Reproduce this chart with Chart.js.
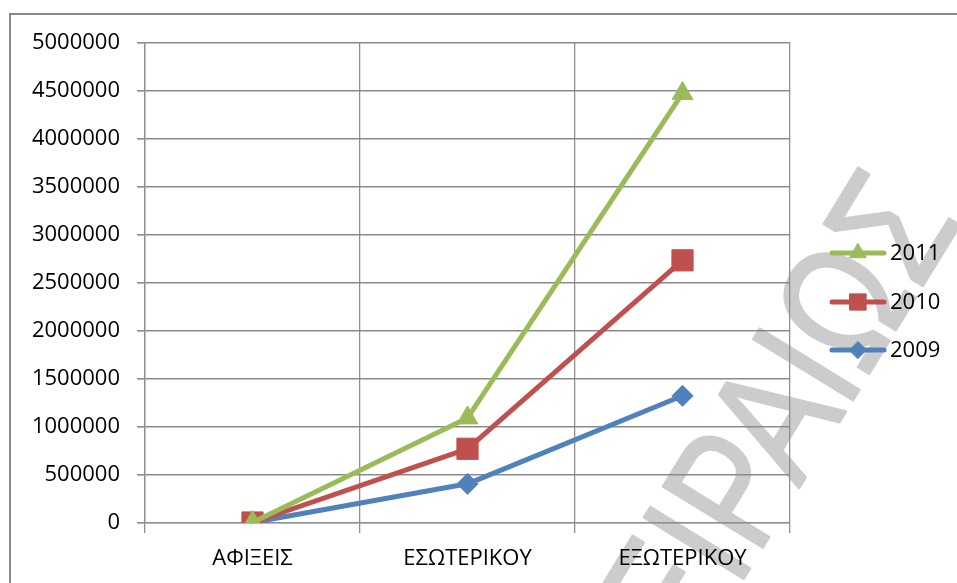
<!DOCTYPE html>
<html>
<head>
<meta charset="utf-8">
<script src="https://cdn.jsdelivr.net/npm/chart.js@4/dist/chart.umd.min.js"></script>
<style>
  html, body { margin: 0; padding: 0; background: #ffffff; }
  #wrap { width: 957px; height: 583px; position: relative; }
</style>
</head>
<body>
<div id="wrap"><canvas id="chart" width="957" height="583"></canvas></div>
<script>
// Categories and yearly series
const categories = ['ΑΦΙΞΕΙΣ', 'ΕΣΩΤΕΡΙΚΟΥ', 'ΕΞΩΤΕΡΙΚΟΥ'];
const years = ['2011', '2010', '2009'];
const values2011 = [5000, 1095000, 4475000];
const values2010 = [5000, 773000, 2736000];
const values2009 = [5000, 408000, 1325000];
const yMin = 0;
const yMax = 5000000;
const yStep = 500000;

const FONT = "'Open Sans', Lato, 'Noto Sans', sans-serif";

const seriesStyle = {
  '2011': { color: '#9BBB59', point: 'triangle', radius: 12, legendRadius: 9.5 },
  '2010': { color: '#C0504D', point: 'rect', radius: 15, legendRadius: 11.5 },
  '2009': { color: '#4F81BD', point: 'rectRot', radius: 10.5, legendRadius: 8.5 }
};

function makeDataset(label, values) {
  const s = seriesStyle[label];
  return {
    label: label,
    data: values,
    borderColor: s.color,
    backgroundColor: s.color,
    borderWidth: 5,
    borderCapStyle: 'round',
    borderJoinStyle: 'round',
    pointStyle: s.point,
    pointRadius: s.radius,
    pointHoverRadius: s.radius,
    pointBorderWidth: 1,
    pointBackgroundColor: s.color,
    pointBorderColor: s.color,
    tension: 0,
    fill: false
  };
}

// Light diagonal watermark and outer frame behind the plot
const backdrop = {
  id: 'backdrop',
  beforeDraw(chart) {
    const ctx = chart.ctx;
    ctx.save();
    ctx.fillStyle = '#ffffff';
    ctx.fillRect(0, 0, chart.width, chart.height);
    ctx.translate(923, 196);
    ctx.rotate(-58.5 * Math.PI / 180);
    ctx.scale(1, 1.25);
    ctx.font = "136px 'Liberation Sans', 'DejaVu Sans', sans-serif";
    ctx.fillStyle = '#cccccc';
    ctx.strokeStyle = '#cccccc';
    ctx.lineWidth = 2;
    ctx.lineJoin = 'round';
    ctx.textAlign = 'right';
    ctx.textBaseline = 'middle';
    ctx.fillText('ΠΕΙΡΑΙΩΣ', 0, 0);
    ctx.strokeText('ΠΕΙΡΑΙΩΣ', 0, 0);
    ctx.restore();
  },
  afterDraw(chart) {
    const ctx = chart.ctx;
    ctx.save();
    ctx.strokeStyle = '#888888';
    ctx.lineWidth = 2;
    ctx.strokeRect(10, 14, 1200, 1200);
    ctx.restore();
  }
};

// Legend on the right: line sample with marker, then the year
const sideLegend = {
  id: 'sideLegend',
  afterDraw(chart) {
    const ctx = chart.ctx;
    const rows = [253, 302, 350];
    chart.data.datasets.forEach((ds, i) => {
      const s = seriesStyle[ds.label];
      const y = rows[i];
      ctx.save();
      ctx.strokeStyle = s.color;
      ctx.lineWidth = 5;
      ctx.lineCap = 'round';
      ctx.beginPath();
      ctx.moveTo(832, y);
      ctx.lineTo(884, y);
      ctx.stroke();
      ctx.fillStyle = s.color;
      ctx.strokeStyle = s.color;
      ctx.lineWidth = 1;
      Chart.helpers.drawPoint(ctx, { pointStyle: s.point, radius: s.legendRadius, rotation: 0, borderWidth: 1 }, 858, y);
      ctx.fillStyle = '#000000';
      ctx.font = '22px ' + FONT;
      ctx.textAlign = 'left';
      ctx.textBaseline = 'middle';
      ctx.fillText(ds.label, 890, y + 1);
      ctx.restore();
    });
  }
};

new Chart(document.getElementById('chart'), {
  type: 'line',
  data: {
    labels: categories,
    datasets: [
      makeDataset('2011', values2011),
      makeDataset('2010', values2010),
      makeDataset('2009', values2009)
    ]
  },
  options: {
    responsive: false,
    devicePixelRatio: 1,
    animation: false,
    layout: { padding: { left: 0, right: 167, top: 43, bottom: 0 } },
    plugins: {
      legend: { display: false },
      tooltip: { enabled: false },
      title: { display: false }
    },
    scales: {
      x: {
        type: 'category',
        offset: true,
        grid: {
          offset: true,
          color: '#8f8f8f',
          lineWidth: 1.3,
          tickLength: 10,
          drawTicks: true
        },
        border: { display: true, color: '#8f8f8f', width: 1.3 },
        ticks: {
          color: '#000000',
          font: { family: FONT, size: 22 },
          padding: 13,
          maxRotation: 0,
          autoSkip: false
        },
        afterFit(scale) { scale.height = 60; }
      },
      y: {
        min: yMin,
        max: yMax,
        grid: {
          color: '#8a8a8a',
          lineWidth: 1.6,
          tickLength: 8,
          drawTicks: true
        },
        border: { display: true, color: '#8f8f8f', width: 1.3 },
        ticks: {
          stepSize: yStep,
          color: '#000000',
          font: { family: FONT, size: 22 },
          padding: 17,
          callback: (v) => String(v)
        },
        afterFit(scale) { scale.width = 145; }
      }
    }
  },
  plugins: [backdrop, sideLegend]
});
</script>
</body>
</html>
